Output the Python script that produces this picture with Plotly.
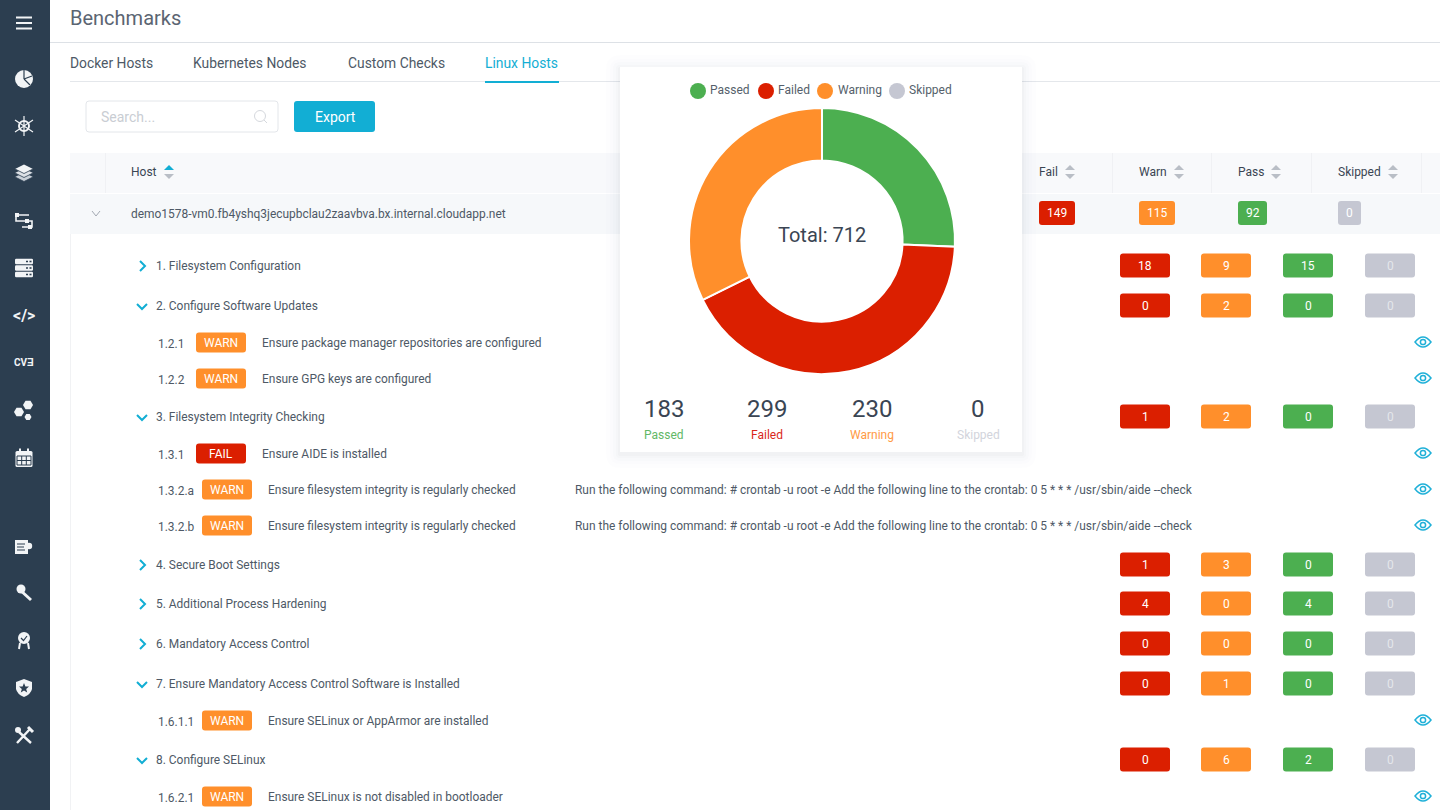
import plotly.graph_objects as go

# donut
status_labels = ["Passed", "Failed", "Warning", "Skipped"]
status_values = [183, 299, 230, 0]
status_colors = ["#4CAF50", "#DB1F00", "#FF8F2B", "#C5C7D2"]
status_text_colors = ["#62B866", "#D9281A", "#FF9A45", "#D2D4DC"]
total_text = "Total: 712"

# header / tabs
page_title = "Benchmarks"
tab_names = ["Docker Hosts", "Kubernetes Nodes", "Custom Checks", "Linux Hosts"]
host_name = "demo1578-vm0.fb4yshq3jecupbclau2zaavbva.bx.internal.cloudapp.net"
column_names = ["Fail", "Warn", "Pass", "Skipped"]
host_counts = [149, 115, 92, 0]

# collapsible benchmark sections
section_names = [
    "1. Filesystem Configuration",
    "2. Configure Software Updates",
    "3. Filesystem Integrity Checking",
    "4. Secure Boot Settings",
    "5. Additional Process Hardening",
    "6. Mandatory Access Control",
    "7. Ensure Mandatory Access Control Software is Installed",
    "8. Configure SELinux",
]
section_open = [False, True, True, False, False, False, True, True]
section_fail = [18, 0, 1, 1, 4, 0, 0, 0]
section_warn = [9, 2, 2, 3, 0, 0, 1, 6]
section_pass = [15, 0, 0, 0, 4, 0, 0, 2]
section_skip = [0, 0, 0, 0, 0, 0, 0, 0]

# individual checks
check_ids = ["1.2.1", "1.2.2", "1.3.1", "1.3.2.a", "1.3.2.b", "1.6.1.1", "1.6.2.1"]
check_states = ["WARN", "WARN", "FAIL", "WARN", "WARN", "WARN", "WARN"]
check_names = [
    "Ensure package manager repositories are configured",
    "Ensure GPG keys are configured",
    "Ensure AIDE is installed",
    "Ensure filesystem integrity is regularly checked",
    "Ensure filesystem integrity is regularly checked",
    "Ensure SELinux or AppArmor are installed",
    "Ensure SELinux is not disabled in bootloader",
]
cron_note = "Run the following command: # crontab -u root -e Add the following line to the crontab: 0 5 * * * /usr/sbin/aide --check"
check_notes = ["", "", "", cron_note, cron_note, "", ""]

FONT = "Roboto, Arial, sans-serif"
TEXT = "#4E5966"
DARK = "#3A4553"
BLUE = "#12AED4"
WHITE = "#F2F4F6"
SIDEBAR = "#2C3E50"

shapes = []
notes = []


def text(x, y, s, size=11.95, color=TEXT, anchor="left"):
    # left-anchored labels land a pixel to the right otherwise
    if anchor == "left":
        x = x - 1
    notes.append(dict(x=x, y=y, xref="x", yref="y", text=s, showarrow=False,
                      xanchor=anchor, yanchor="middle", borderpad=0,
                      font=dict(family=FONT, size=size, color=color)))


def rect(x0, y0, x1, y1, fill, line=None):
    shapes.append(dict(type="rect", x0=x0, y0=y0, x1=x1, y1=y1, xref="x", yref="y", layer="below",
                       fillcolor=fill, line=dict(color=line or fill, width=1 if line else 0)))


def rrect(x0, y0, x1, y1, r, fill, line=None):
    p = (f"M{x0+r},{y0} L{x1-r},{y0} Q{x1},{y0} {x1},{y0+r} L{x1},{y1-r} Q{x1},{y1} {x1-r},{y1} "
         f"L{x0+r},{y1} Q{x0},{y1} {x0},{y1-r} L{x0},{y0+r} Q{x0},{y0} {x0+r},{y0} Z")
    shapes.append(dict(type="path", path=p, xref="x", yref="y", layer="below", fillcolor=fill,
                       line=dict(color=line or fill, width=1 if line else 0)))


def stroke(path, color=WHITE, width=2):
    shapes.append(dict(type="path", path=path, xref="x", yref="y", layer="below",
                       line=dict(color=color, width=width)))


def blob(path, color=WHITE):
    shapes.append(dict(type="path", path=path, xref="x", yref="y", layer="below",
                       fillcolor=color, line=dict(color=color, width=0)))


def circle(cx, cy, r, fill=None, line=None, width=1.5):
    shapes.append(dict(type="circle", x0=cx-r, y0=cy-r, x1=cx+r, y1=cy+r, xref="x", yref="y", layer="below",
                       fillcolor=fill or "rgba(0,0,0,0)", line=dict(color=line or fill, width=width if line else 0)))


def sort_arrows(x, y, top="#B9BEC6"):
    blob(f"M{x-5},{y-2} L{x},{y-7} L{x+5},{y-2} Z", top)
    blob(f"M{x-5},{y+2} L{x},{y+7} L{x+5},{y+2} Z", "#B9BEC6")


def badge(x0, x1, y, h, value, fill, color="#FFFFFF", size=12):
    rrect(x0, y-h/2, x1, y+h/2, 3, fill)
    text((x0+x1)/2, y, str(value), size=size, color=color, anchor="center")


def eye(cx, cy):
    stroke(f"M{cx-8},{cy} Q{cx},{cy-10} {cx+8},{cy} Q{cx},{cy+10} {cx-8},{cy} Z", "#1FB0D8", 1.5)
    circle(cx, cy, 2.6, line="#1FB0D8", width=1.5)


# page furniture
rect(50, 0, 1440, 810, "#FFFFFF")
rect(0, 0, 50, 810, SIDEBAR)
rect(50, 42, 1440, 43, "#DDE1E6")
rect(70, 81, 1440, 82, "#E4E7EB")
rect(485, 81, 559, 83, BLUE)
rect(70, 153, 1440, 193, "#F8F9FB")
rect(70, 194, 1440, 234, "#F6F8FA")
rect(70, 234, 71, 810, "#F1F2F4")
for sep in [105, 1112, 1211, 1311, 1421]:
    rect(sep, 153, sep+1, 193, "#F0F1F4")

text(70, 18, page_title, size=20, color="#5B6572")
for name, x, col in zip(tab_names, [70, 193, 347.5, 485], [TEXT, TEXT, TEXT, BLUE]):
    text(x, 63, name, size=13.85, color=col)

rrect(86, 101, 278, 132, 3, "#FFFFFF", "#E3E6EA")
text(101, 117, "Search...", size=14, color="#C9CDD3")
circle(260, 116, 5.5, line="#D5D8DD", width=1)
stroke("M264,120 L267,123", "#D5D8DD", 1)
rrect(294, 101, 375, 132, 3, BLUE)
text(335, 117, "Export", size=14, color="#FFFFFF", anchor="center")

# table header
text(131, 172, "Host", size=12, color=DARK)
sort_arrows(169, 172, top=BLUE)
for name, x, sx in zip(column_names, [1039, 1139, 1238, 1338], [1070, 1179, 1276, 1393]):
    text(x, 172, name, size=12, color=DARK)
    sort_arrows(sx, 172)

stroke("M92,211 L96,216 L100,211", "#A3A9B2", 1)
text(131, 213.5, host_name, color=TEXT)
for val, x0, x1, col in zip(host_counts, [1039, 1139, 1238, 1338], [1075, 1175, 1267, 1361], status_colors[1:3] + status_colors[:1] + status_colors[3:]):
    badge(x0, x1, 213, 24, val, col)

# sections
section_y = [266, 306, 417, 565, 604, 644, 684, 760]
for i, name in enumerate(section_names):
    y = section_y[i]
    if section_open[i]:
        stroke(f"M137,{y-2} L142,{y+3} L147,{y-2}", BLUE, 2)
    else:
        stroke(f"M140,{y-5} L145,{y} L140,{y+5}", BLUE, 2)
    text(156, y, name)
    badge(1120, 1170, y-0.5, 24, section_fail[i], status_colors[1])
    badge(1201, 1251, y-0.5, 24, section_warn[i], status_colors[2])
    badge(1283, 1333, y-0.5, 24, section_pass[i], status_colors[0])
    badge(1365, 1415, y-0.5, 24, section_skip[i], status_colors[3], color="#E4E6EB")

# checks
check_y = [343, 379, 454, 490, 526, 721, 797]
for i, cid in enumerate(check_ids):
    y = check_y[i]
    x0 = 202 if len(cid) > 5 else 196
    text(158, y+0.5, cid)
    badge(x0, x0+50, y-0.5, 20, check_states[i], status_colors[1] if check_states[i] == "FAIL" else status_colors[2])
    text(x0+66, y-0.5, check_names[i])
    if check_notes[i]:
        text(575, y-0.5, check_notes[i])
    eye(1423, y-1)

# sidebar icons
for yy in [17.5, 23, 28.5]:
    stroke(f"M16,{yy} L32,{yy}", WHITE, 2)
circle(24, 79, 9, fill=WHITE)
stroke("M24,79 L24,70 M24,79 L32,76 M24,79 L30,85", SIDEBAR, 1.2)
circle(24, 126, 5, line=WHITE, width=2)
stroke("M24,116 L24,136 M15,120 L33,132 M33,120 L15,132", WHITE, 1.2)
for yy, col in [(177, "#C9D0D8"), (173, "#DDE1E6"), (169, WHITE)]:
    blob(f"M15,{yy} L24,{yy-4.5} L33,{yy} L24,{yy+4.5} Z", col)
    stroke(f"M15,{yy} L24,{yy+4.5} L33,{yy}", SIDEBAR, 0.8)
stroke("M29,215 L16,215 L16,221 L32,221 L32,227 L22,227", WHITE, 1.6)
for x, y in [(15, 213), (25, 219), (28, 225)]:
    rect(x, y, x+4, y+4, WHITE)
for yy in [261.5, 268, 274.5]:
    rrect(15, yy-2.7, 33, yy+2.7, 1.2, WHITE)
    rect(26, yy-0.8, 28, yy+0.8, SIDEBAR)
    rect(29.5, yy-0.8, 31.5, yy+0.8, SIDEBAR)
text(24, 315, "<b>&lt;/&gt;</b>", size=16, color=WHITE, anchor="center")
text(24, 362, "<b>CVƎ</b>", size=10, color=WHITE, anchor="center")
for cx, cy, r in [(28, 405, 5), (19, 412, 5), (28, 417, 3.5)]:
    blob(f"M{cx-r},{cy} L{cx-r/2},{cy-r*0.87} L{cx+r/2},{cy-r*0.87} L{cx+r},{cy} L{cx+r/2},{cy+r*0.87} L{cx-r/2},{cy+r*0.87} Z")
rrect(15.5, 451, 32.5, 467, 1.5, WHITE)
rect(19, 448.5, 21, 453, WHITE)
rect(27, 448.5, 29, 453, WHITE)
stroke("M17,456 L31,456 L31,465 L17,465 Z M21.7,456 L21.7,465 M26.3,456 L26.3,465 M17,460.5 L31,460.5", SIDEBAR, 1)
blob("M15,540 L28,540 L28,554 L15,554 Z")
stroke("M17,544 L25,544 M17,547 L24,547 M17,550 L25,550", SIDEBAR, 1)
circle(29, 546, 3.2, fill=WHITE)
stroke("M19,589 L31,600", WHITE, 3)
circle(21, 589, 4.5, fill=WHITE)
circle(24, 638, 6, fill=WHITE)
stroke("M20,643 L19,649 M28,643 L29,649", WHITE, 2)
stroke("M21,638 L23.5,640.5 L27,636", SIDEBAR, 1.2)
blob("M24,679 L32,682 L32,689 Q31,694 24,697 Q17,694 16,689 L16,682 Z")
blob("M24,683 L25.4,686.4 L29,686.6 L26.2,689 L27.2,692.4 L24,690.5 L20.8,692.4 L21.8,689 L19,686.6 L22.6,686.4 Z", SIDEBAR)
stroke("M19,732 L31,743 M30,729 L17,743", WHITE, 2.4)
circle(18, 730, 3, fill=WHITE)
stroke("M28,727 L33,732", WHITE, 3)

# floating card, soft shadow then the white panel
for grow, alpha in [(14, 0.006), (10, 0.008), (7, 0.012), (4, 0.016), (2, 0.02)]:
    rrect(620-grow, 67-grow+2, 1022+grow, 452+grow+2, grow, f"rgba(40,50,70,{alpha})")
rect(620, 67, 1022, 452, "#FFFFFF")

# legend, centre label and totals under the donut
legend_x = [698, 766, 825, 897]
legend_text_x = [710, 778, 838, 909]
total_x = [664, 767, 872, 978]
for i, label in enumerate(status_labels):
    text(legend_text_x[i], 90, label, size=12, color="#555F6B")
    text(total_x[i], 409, str(status_values[i]), size=24, color=DARK, anchor="center")
    text(total_x[i], 435, label, size=12, color=status_text_colors[i], anchor="center")
text(822, 235, total_text, size=20, color=DARK, anchor="center")

fig = go.Figure()
fig.add_trace(go.Scatter(x=legend_x, y=[91] * 4, mode="markers", hoverinfo="skip", showlegend=False,
                         marker=dict(size=16, color=status_colors, line=dict(width=0))))
fig.add_trace(go.Pie(labels=status_labels, values=status_values, hole=0.606, sort=False,
                     direction="clockwise", rotation=0, textinfo="none", hoverinfo="skip",
                     showlegend=False, marker=dict(colors=status_colors, line=dict(color="#FFFFFF", width=2)),
                     domain=dict(x=[689/1440, 955/1440], y=[1-374/810, 1-108/810])))

fig.update_layout(
    width=1440, height=810, margin=dict(l=0, r=0, t=0, b=0),
    paper_bgcolor="#FFFFFF", plot_bgcolor="#FFFFFF", showlegend=False,
    xaxis=dict(range=[0, 1440], visible=False, fixedrange=True),
    yaxis=dict(range=[810, 0], visible=False, fixedrange=True),
    shapes=shapes, annotations=notes,
)

fig.write_html("out.html", config=dict(displayModeBar=False),
               post_script="document.body.style.margin='0';document.body.style.overflow='hidden';")
